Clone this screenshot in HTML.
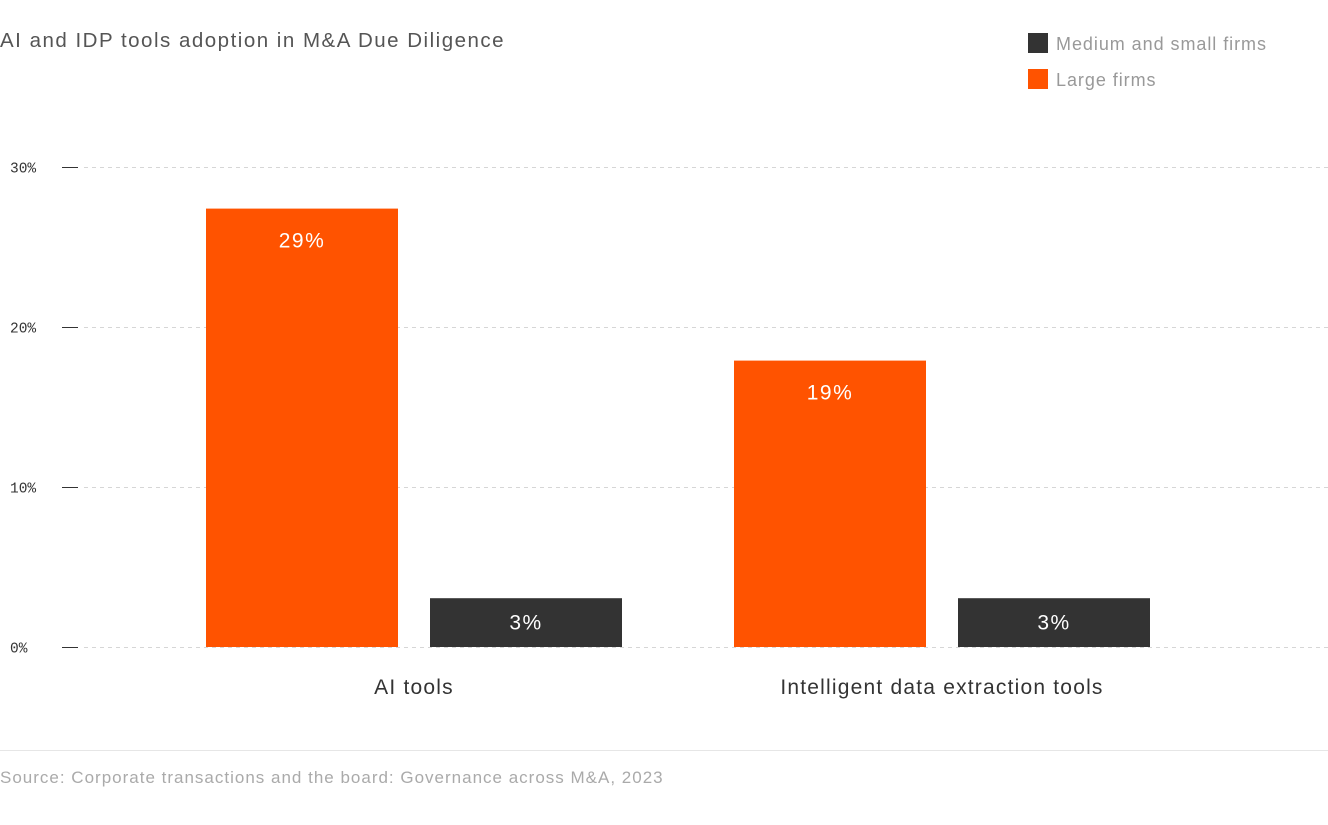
<!DOCTYPE html>
<html><head><meta charset="utf-8">
<style>
body{margin:0;background:#fff;width:1328px;height:820px;overflow:hidden;font-family:"Liberation Sans",sans-serif}
</style></head><body>
<svg id="chart" width="1328" height="820" xmlns="http://www.w3.org/2000/svg">
<text x="0" y="47" font-size="20.5" letter-spacing="1.5" fill="#555">AI and IDP tools adoption in M&amp;A Due Diligence</text>
<g>
<rect x="1028" y="33" width="20" height="20" fill="#333"/>
<text x="1056" y="50" font-size="18" letter-spacing="0.95" fill="#999">Medium and small firms</text>
<rect x="1028" y="69" width="20" height="20" fill="#ff5300"/>
<text x="1056" y="86" font-size="18" letter-spacing="0.95" fill="#999">Large firms</text>
</g>
<g id="axis"></g>
<g id="bars"></g>
<line x1="0" y1="750.5" x2="1328" y2="750.5" stroke="#e6e6e6"/>
<text x="0" y="783" font-size="17" letter-spacing="1" fill="#aaa">Source: Corporate transactions and the board: Governance across M&amp;A, 2023</text>
</svg>
<script>
const categories = ["AI tools", "Intelligent data extraction tools"];
const largeValues = [27.4, 17.9];
const largeLabels = ["29%", "19%"];
const smallValues = [3.05, 3.05];
const smallLabels = ["3%", "3%"];
const ticks = [0, 10, 20, 30];
const tickLabels = ["0%", "10%", "20%", "30%"];

const NS = "http://www.w3.org/2000/svg";
const y0 = 647, pxPer = 16;
const yScale = v => y0 - v * pxPer;
const catX = i => 414 + i * 528;
function mk(tag, attrs, parent){const e=document.createElementNS(NS,tag);for(const k in attrs)e.setAttribute(k,attrs[k]);parent.appendChild(e);return e;}
const axis = document.getElementById('axis'), bars = document.getElementById('bars');
ticks.forEach((t,i)=>{
  const y = yScale(t)+0.5;
  const g = mk('line',{x1:84,x2:1328,y1:y,y2:y,stroke:'#d6d6d6','stroke-dasharray':'4,4'},axis);
  
  
  const tm = mk('line',{x1:62,x2:78,y1:y,y2:y,stroke:'#333'},axis);
  
  
  const tx = mk('text',{x:10,y:y+5,'font-size':14.5,fill:'#333','font-family':'Liberation Mono, monospace'},axis);
  tx.textContent = tickLabels[i];
  
  
});
categories.forEach((c,i)=>{
  const cx = catX(i);
  const series = [[largeValues[i], largeLabels[i], '#ff5300', cx-208, 'bar-large'],[smallValues[i], smallLabels[i], '#333', cx+16, 'bar-medium-small']];
  series.forEach(s=>{
    const top = yScale(s[0]);
    const h = y0 - top;
    const r = mk('rect',{x:s[3],y:top,width:192,height:h,fill:s[2]},bars);
    
    
    const t = mk('text',{x:s[3]+96,y:top+Math.min(39, h/2+7),'text-anchor':'middle','font-size':21,'letter-spacing':1.5,fill:'#fff'},bars);
    t.textContent = s[1];
    
    
  });
  const l = mk('text',{x:cx,y:694,'text-anchor':'middle','font-size':21,'letter-spacing':1.2,fill:'#333'},bars);
  l.textContent = c;
  
  
});
</script>
</body></html>
